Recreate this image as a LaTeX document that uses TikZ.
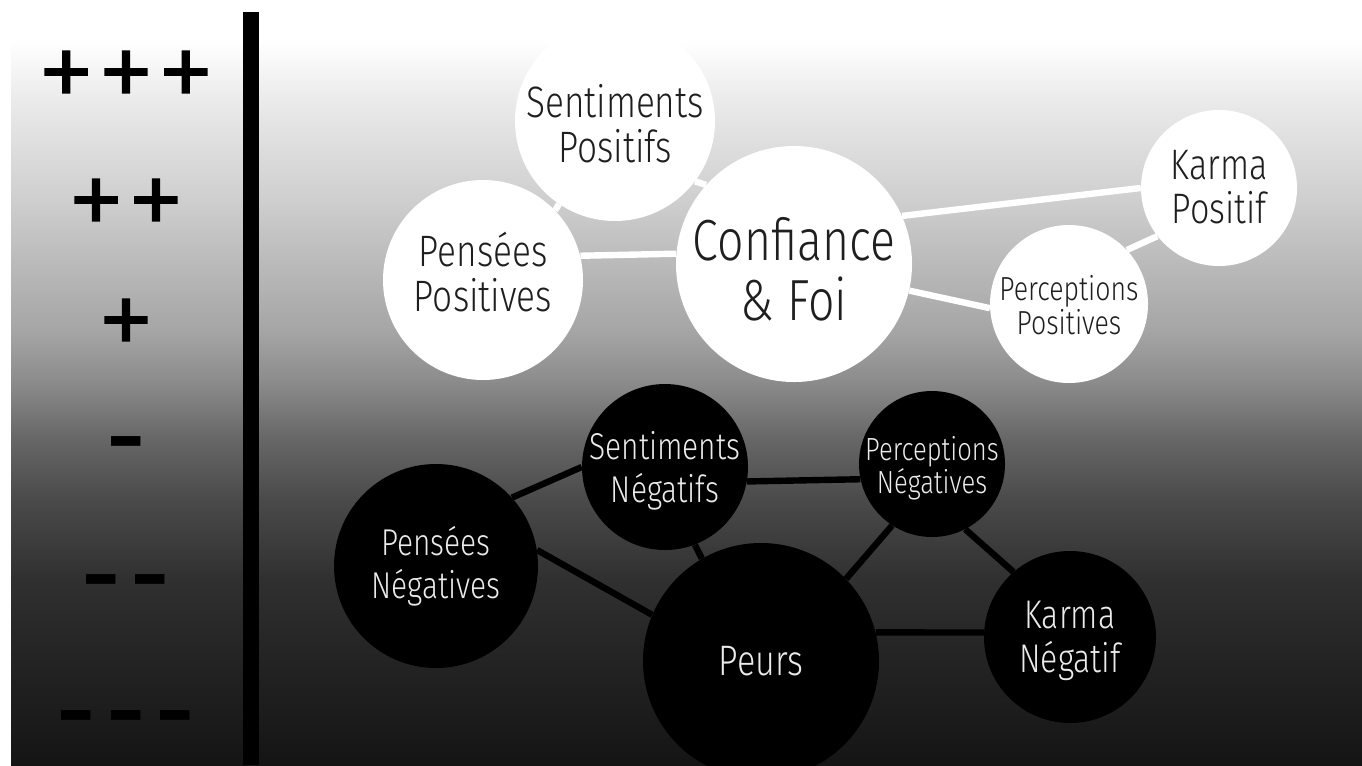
\documentclass[tikz,border=0pt]{standalone}
\usepackage{fontspec}
\setmainfont{Fira Sans}[UprightFont=* Light, FakeStretch=0.8]
\newfontfamily\dashfont{Fira Sans}[FakeStretch=1.15]
\newfontfamily\symlight{Fira Sans}[UprightFont=* Light, FakeBold=1.5]
\pgfdeclarelayer{bglayer}
\pgfdeclarelayer{edgelayer}
\pgfsetlayers{bglayer,edgelayer,main}
\pgfdeclareverticalshading{bgshade}{100bp}{color(0bp)=(black!92); color(25bp)=(black!92); color(28.45bp)=(black!89); color(33.3bp)=(black!85); color(37.42bp)=(black!81); color(42.6bp)=(black!71); color(46.58bp)=(black!60); color(50.56bp)=(black!45); color(53.88bp)=(black!35); color(58.86bp)=(black!26); color(62.52bp)=(black!19); color(69.16bp)=(black!8); color(73.14bp)=(white); color(100bp)=(white)}
% first line's baseline raised #1 above the circle centre
\newcommand\ctext[2]{\smash{\raisebox{#1}{\begin{tabular}[t]{@{}c@{}}#2\end{tabular}}}}
\tikzset{
  posnode/.style={circle, fill=white, text=black!88, inner sep=0pt},
  negnode/.style={circle, fill=black, text=white!92!black, inner sep=0pt},
  wlink/.style={draw=white, line width=4.8pt},
  blink/.style={draw=black, line width=4.8pt},
  plustext/.style={text=black, inner sep=0pt, font=\symlight\fontsize{88}{88}\selectfont},
  dashtext/.style={text=black, inner sep=0pt, anchor=base, font=\dashfont\bfseries\fontsize{60}{60}\selectfont},
  fs/.style 2 args={font=\fontsize{#1}{#2}\selectfont}
}
\begin{document}
\begin{tikzpicture}[x=0.75pt,y=-0.75pt]
\useasboundingbox (0,0) rectangle (1362,765);
% nodes
\node[posnode, minimum size=150pt, fs={33}{31.5}] (sp) at (615,121) {\ctext{3pt}{Sentiments\\Positifs}};
\node[posnode, minimum size=150pt, fs={33}{31.5}] (pp) at (483,280) {\ctext{10.5pt}{Pensées\\Positives}};
\node[posnode, minimum size=177pt, fs={43.5}{42.75}] (cf) at (794,264) {\ctext{3pt}{Confiance\\\& Foi}};
\node[posnode, minimum size=117pt, fs={32}{31.5}] (kp) at (1219,188) {\ctext{6.75pt}{Karma\\Positif}};
\node[posnode, minimum size=118.5pt, fs={25}{24}] (perp) at (1069,304) {\ctext{3pt}{Perceptions\\Positives}};
\node[negnode, minimum size=153pt, fs={28}{32.25}] (pn) at (436,566) {\ctext{8.25pt}{Pensées\\Négatives}};
\node[negnode, minimum size=124.5pt, fs={28}{32.25}] (sn) at (665,467) {\ctext{6pt}{Sentiments\\Négatifs}};
\node[negnode, minimum size=109.5pt, fs={24}{21}] (pern) at (932,464) {\ctext{3pt}{Perceptions\\Négatives}};
\node[negnode, minimum size=177pt, fs={32}{32}] (pe) at (761,661) {\ctext{-10.5pt}{Peurs}};
\node[negnode, minimum size=129pt, fs={30}{33}] (kn) at (1070,637) {\ctext{6.75pt}{Karma\\Négatif}};
% scale
\node[plustext] (p3) at (126,81) {+\kern1.5pt+\kern1.5pt+};
\node[plustext] (p2) at (126,209) {+\kern1.5pt+};
\node[plustext] (p1) at (126,329) {+};
\node[dashtext] (m1) at (126,466) {-};
\node[dashtext] (m2) at (126,604) {-\kern9pt-};
\node[dashtext] (m3) at (126,740) {-\kern9pt-\kern9pt-};
\begin{pgfonlayer}{bglayer}
\fill[white] (0,0) rectangle (1362,765);
\shade[shading=bgshade] (11,12) rectangle (1362,765);
\fill[black] (243,12) rectangle (259,765);
\end{pgfonlayer}
\begin{pgfonlayer}{edgelayer}
\draw[wlink] (sp.236) -- (pp.44);
\draw[wlink] (sp.-37) -- (cf.138);
\draw[wlink] (pp.14) -- (cf.175);
\draw[wlink] (cf.24) -- (kp.180);
\draw[wlink] (cf.-13) -- (perp.183);
\draw[wlink] (perp.43) -- (kp.218);
\draw[blink] (pn.42) -- (sn.180);
\draw[blink] (pn.9) -- (pe.157);
\draw[blink] (sn.-69) -- (pe.120);
\draw[blink] (sn.-10) -- (pern.192);
\draw[blink] (pern.237) -- (pe.44);
\draw[blink] (pern.-63) -- (kn.131);
\draw[blink] (pe.14) -- (kn.177);
\end{pgfonlayer}
\end{tikzpicture}
\end{document}
